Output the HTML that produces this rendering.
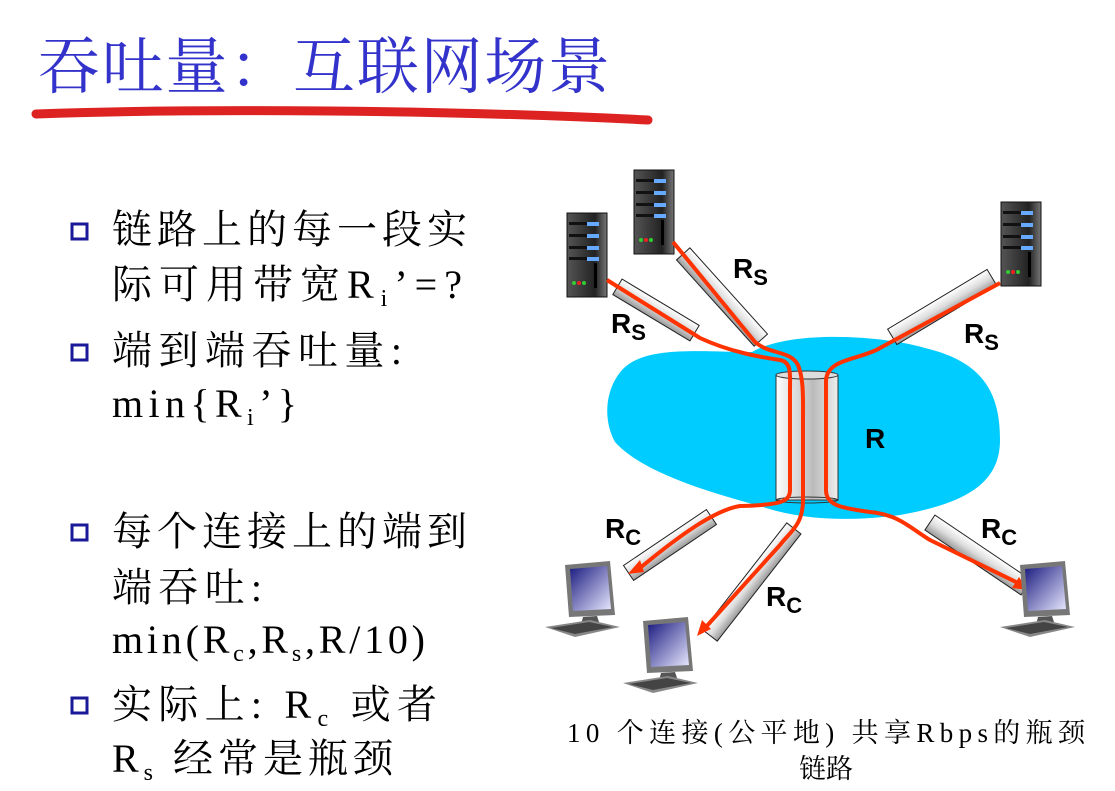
<!DOCTYPE html>
<html><head><meta charset="utf-8"><style>
html,body{margin:0;padding:0;background:#fff;width:1115px;height:791px;overflow:hidden}
svg{display:block}
.cj{font-family:"Liberation Serif","Noto Serif CJK SC",serif;font-size:40px;fill:#000}
.lb{font-family:"Liberation Sans",sans-serif;font-weight:bold;fill:#000}
</style></head><body>
<svg width="1115" height="791" viewBox="0 0 1115 791" xmlns="http://www.w3.org/2000/svg">
<defs>
<linearGradient id="pg" x1="0" y1="0" x2="0" y2="1"><stop offset="0" stop-color="#fff"/><stop offset="0.5" stop-color="#ddd"/><stop offset="1" stop-color="#999"/></linearGradient>
<linearGradient id="cg" x1="0" y1="0" x2="1" y2="0"><stop offset="0" stop-color="#fff"/><stop offset="0.6" stop-color="#bbb"/><stop offset="1" stop-color="#eee"/></linearGradient>
<linearGradient id="sg" x1="0" y1="0" x2="1" y2="0"><stop offset="0" stop-color="#555"/><stop offset="0.7" stop-color="#222"/><stop offset="1" stop-color="#777"/></linearGradient>
<linearGradient id="mg" x1="0" y1="0" x2="1" y2="1"><stop offset="0" stop-color="#1a1a80"/><stop offset="1" stop-color="#e8e8ff"/></linearGradient>
<g id="srv">
<rect x="0" y="0" width="40" height="84" fill="url(#sg)" stroke="#111"/>
<rect x="2" y="9" width="30" height="3" fill="#111"/><rect x="20" y="9" width="12" height="4" fill="#6af"/>
<rect x="2" y="21" width="30" height="3" fill="#111"/><rect x="20" y="21" width="12" height="4" fill="#6af"/>
<rect x="2" y="33" width="30" height="3" fill="#111"/><rect x="20" y="33" width="12" height="4" fill="#6af"/>
<rect x="2" y="44" width="30" height="3" fill="#111"/><rect x="20" y="44" width="12" height="4" fill="#6af"/>
<rect x="27" y="50" width="3" height="25" fill="#000"/>
<circle cx="7" cy="70" r="2" fill="#3c3"/><circle cx="12" cy="70" r="2" fill="#e22"/><circle cx="17" cy="70" r="2" fill="#3c3"/>
</g>
<g id="pc">
<polygon points="20,0 65,-4 70,50 24,52" fill="#777"/>
<polygon points="25,4 62,1 66,44 28,46" fill="url(#mg)"/>
<polygon points="38,52 52,51 55,60 36,60" fill="#555"/>
<polygon points="0,62 45,55 75,62 30,72" fill="#888"/>
<polygon points="6,63 44,57 68,62 30,69" fill="#444"/>
</g>
</defs>
<text x="38" y="88" font-family="'Liberation Serif','Noto Serif CJK SC',serif" font-size="62" fill="#3333cc" textLength="572" lengthAdjust="spacing">吞吐量：互联网场景</text>
<path d="M36,114 C200,108 450,110 648,120" stroke="#d22" stroke-width="9" fill="none" stroke-linecap="round"/>
<g fill="#fff" stroke="#1a1a99" stroke-width="3">
<rect x="72" y="224" width="15" height="15"/><rect x="72" y="345" width="15" height="15"/>
<rect x="72" y="525" width="15" height="15"/><rect x="72" y="698" width="15" height="15"/>
</g>
<text class="cj" x="112" y="243" textLength="355" lengthAdjust="spacing">链路上的每一段实</text>
<text class="cj" x="112" y="298" textLength="350" lengthAdjust="spacing">际可用带宽R<tspan font-size="24" dy="8">i</tspan><tspan dy="-8">’=?</tspan></text>
<text class="cj" x="112" y="364" textLength="290" lengthAdjust="spacing">端到端吞吐量:</text>
<text class="cj" x="112" y="417" textLength="185" lengthAdjust="spacing">min{R<tspan font-size="24" dy="8">i</tspan><tspan dy="-8">’}</tspan></text>
<text class="cj" x="112" y="545" textLength="355" lengthAdjust="spacing">每个连接上的端到</text>
<text class="cj" x="112" y="601" textLength="150" lengthAdjust="spacing">端吞吐:</text>
<text class="cj" x="112" y="653" textLength="313" lengthAdjust="spacing">min(R<tspan font-size="24" dy="8">c</tspan><tspan dy="-8">,R</tspan><tspan font-size="24" dy="8">s</tspan><tspan dy="-8">,R/10)</tspan></text>
<text class="cj" x="112" y="718" textLength="325" lengthAdjust="spacing">实际上: R<tspan font-size="24" dy="8">c</tspan><tspan dy="-8"> 或者</tspan></text>
<text class="cj" x="112" y="772" textLength="281" lengthAdjust="spacing">R<tspan font-size="24" dy="8">s</tspan><tspan dy="-8"> 经常是瓶颈</tspan></text>
<path d="M622,370 C645,345 700,352 752,352 C790,330 880,335 925,348 C985,362 1000,395 1000,440 C1000,482 968,503 900,515 C850,522 800,520 760,506 C700,490 640,470 615,442 C602,418 606,388 622,370 Z" fill="#00ccff"/>
<rect x="776" y="375" width="62" height="125" fill="url(#cg)" stroke="#333"/>
<ellipse cx="807" cy="375" rx="31" ry="4" fill="#ddd" stroke="#333"/>
<ellipse cx="807" cy="500" rx="31" ry="3" fill="none" stroke="#333"/>
<g stroke="#222" stroke-width="1" fill="url(#pg)">
<rect x="-45" y="-9" width="90" height="18" transform="translate(656,310) rotate(31)"/>
<rect x="-58" y="-9" width="116" height="18" transform="translate(722,297) rotate(48)"/>
<rect x="-58" y="-9" width="116" height="18" transform="translate(942,307) rotate(-31)"/>
<rect x="-50" y="-9" width="100" height="18" transform="translate(670,545) rotate(-34)"/>
<rect x="-68" y="-9" width="136" height="18" transform="translate(752,582) rotate(-52)"/>
<rect x="-58" y="-9" width="116" height="18" transform="translate(978,555) rotate(34)"/>
</g>
<use href="#srv" x="567" y="213"/><use href="#srv" x="634" y="170"/><use href="#srv" x="1001" y="202"/>
<g stroke="#ff3300" stroke-width="4" fill="none" stroke-linejoin="round">
<path d="M607,280 L700,338 C730,352 760,357 780,360 C792,362 790,375 790,390 L790,490 C790,502 780,505 740,506 C715,510 680,535 640,568"/>
<path d="M673,242 L755,342 C770,355 790,350 798,365 C804,380 803,400 803,420 L803,500 C803,525 790,532 780,545 L705,628"/>
<path d="M1000,283 L880,348 C860,360 828,358 826,380 L826,490 C826,505 840,508 870,512 C900,515 910,528 930,540 L1018,583"/>
</g>
<g fill="#ff3300">
<polygon points="628,574 640,560 644,572"/>
<polygon points="697,636 702,620 711,629"/>
<polygon points="1028,590 1012,588 1019,577"/>
</g>
<use href="#pc" x="545" y="565"/><use href="#pc" x="623" y="621"/><use href="#pc" x="1000" y="565"/>
<text class="lb" x="733" y="278" font-size="28">R<tspan font-size="22" dy="7">S</tspan></text>
<text class="lb" x="611" y="333" font-size="28">R<tspan font-size="22" dy="7">S</tspan></text>
<text class="lb" x="964" y="343" font-size="28">R<tspan font-size="22" dy="7">S</tspan></text>
<text class="lb" x="865" y="448" font-size="28">R</text>
<text class="lb" x="605" y="538" font-size="28">R<tspan font-size="22" dy="7">C</tspan></text>
<text class="lb" x="766" y="606" font-size="28">R<tspan font-size="22" dy="7">C</tspan></text>
<text class="lb" x="981" y="538" font-size="28">R<tspan font-size="22" dy="7">C</tspan></text>
<text x="567" y="742" font-family="'Liberation Serif','Noto Serif CJK SC',serif" font-size="27" fill="#000" textLength="518" lengthAdjust="spacing">10 个连接(公平地) 共享Rbps的瓶颈</text>
<text x="826" y="778" text-anchor="middle" font-family="'Liberation Serif','Noto Serif CJK SC',serif" font-size="27" fill="#000">链路</text>
</svg>
</body></html>
